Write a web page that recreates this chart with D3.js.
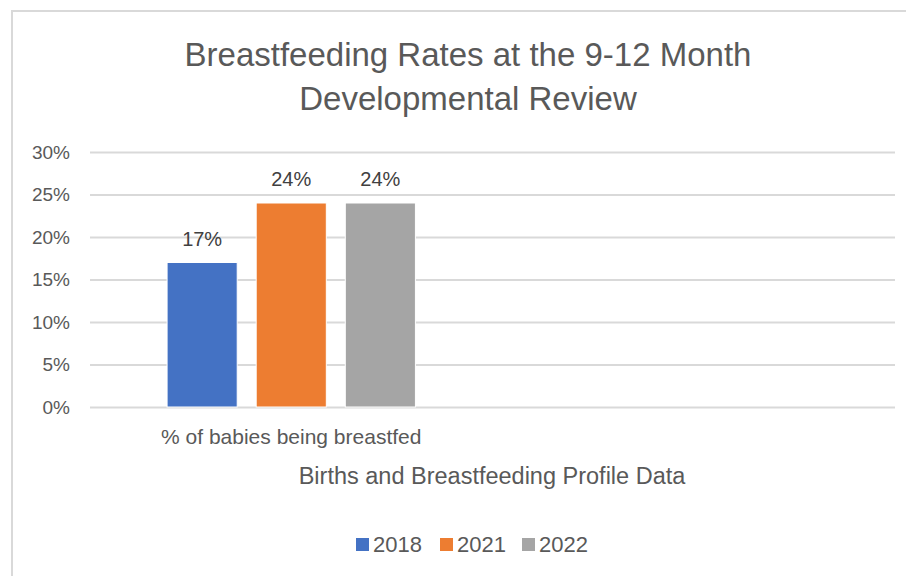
<!DOCTYPE html>
<html>
<head>
<meta charset="utf-8">
<script src="https://cdn.jsdelivr.net/npm/d3@7"></script>
<style>
  html, body { margin: 0; padding: 0; background: #fff; }
  svg { display: block; }
  text { font-family: "Liberation Sans", Arial, sans-serif; }
</style>
</head>
<body>
<svg id="chart" width="906" height="576"></svg>
<script>
const titleLines = ["Breastfeeding Rates at the 9-12 Month", "Developmental Review"];
const categories = ["% of babies being breastfed", ""];
const seriesNames = ["2018", "2021", "2022"];
const seriesColors = ["#4472C4", "#ED7D31", "#A5A5A5"];
const values2018 = [0.17, null];
const values2021 = [0.24, null];
const values2022 = [0.24, null];
const yTicks = [0, 0.05, 0.10, 0.15, 0.20, 0.25, 0.30];
const xAxisTitle = "Births and Breastfeeding Profile Data";

const seriesValues = [values2018, values2021, values2022];
const svg = d3.select("#chart");
const W = 906, H = 576;
const textColor = "#595959";

// chart border
svg.append("rect").attr("x", 12).attr("y", 11).attr("width", W).attr("height", H)
  .attr("fill", "#fff").attr("stroke", "#D9D9D9").attr("stroke-width", 2);

// title
svg.append("g").selectAll("text").data(titleLines).join("text")
  .attr("x", 468).attr("y", (d, i) => 66 + i * 44)
  .attr("text-anchor", "middle").attr("font-size", 33).attr("fill", textColor)
  .text(d => d);

const plot = { left: 90, right: 895, top: 152, bottom: 407 };
const x0 = d3.scaleBand().domain(categories).range([plot.left, plot.right]).padding(0);
const groupFrac = 0.617;
const x1 = d3.scaleBand().domain(seriesNames)
  .range([x0.bandwidth() * (1 - groupFrac) / 2, x0.bandwidth() * (1 + groupFrac) / 2])
  .paddingInner(0.213).paddingOuter(0);
const y = d3.scaleLinear().domain([0, 0.30]).range([plot.bottom, plot.top]);

// gridlines + y tick labels
const yAxis = d3.axisLeft(y).tickValues(yTicks).tickFormat(d3.format(".0%"))
  .tickSize(-(plot.right - plot.left)).tickPadding(20);
const gy = svg.append("g").attr("transform", `translate(${plot.left},0)`).call(yAxis);
gy.select(".domain").remove();
gy.selectAll(".tick line").attr("stroke", "#D9D9D9").attr("stroke-width", 2);
gy.selectAll(".tick text").attr("fill", textColor).attr("font-size", 19)
  .style("font-family", '"Liberation Sans", Arial, sans-serif');

// bars
const barData = [];
categories.forEach((c, ci) => {
  seriesNames.forEach((s, si) => {
    const v = seriesValues[si][ci];
    if (v != null) barData.push({ cat: c, series: s, value: v, color: seriesColors[si] });
  });
});
svg.append("g").selectAll("rect").data(barData).join("rect")
  .attr("x", d => x0(d.cat) + x1(d.series))
  .attr("y", d => y(d.value))
  .attr("width", x1.bandwidth())
  .attr("height", d => y(0) - y(d.value))
  .attr("fill", d => d.color)
  .attr("stroke", "#fff").attr("stroke-width", 1);

// data labels
svg.append("g").selectAll("text").data(barData).join("text")
  .attr("x", d => x0(d.cat) + x1(d.series) + x1.bandwidth() / 2)
  .attr("y", d => y(d.value) - 17)
  .attr("text-anchor", "middle").attr("font-size", 20).attr("fill", "#404040")
  .text(d => d3.format(".0%")(d.value));

// x-axis category labels
svg.append("g").selectAll("text").data(categories).join("text")
  .attr("x", d => x0(d) + x0.bandwidth() / 2)
  .attr("y", 444)
  .attr("text-anchor", "middle").attr("font-size", 21).attr("fill", textColor)
  .text(d => d);

// axis title
svg.append("text").attr("x", 492).attr("y", 484).attr("text-anchor", "middle")
  .attr("font-size", 23.5).attr("fill", textColor).text(xAxisTitle);

// legend
const legendX = [356, 440, 522];
const lg = svg.append("g").selectAll("g").data(seriesNames).join("g")
  .attr("transform", (d, i) => `translate(${legendX[i]},538)`);
lg.append("rect").attr("width", 13).attr("height", 13).attr("fill", (d, i) => seriesColors[i]);
lg.append("text").attr("x", 17).attr("y", 14).attr("font-size", 22).attr("fill", textColor).text(d => d);
</script>
</body>
</html>
